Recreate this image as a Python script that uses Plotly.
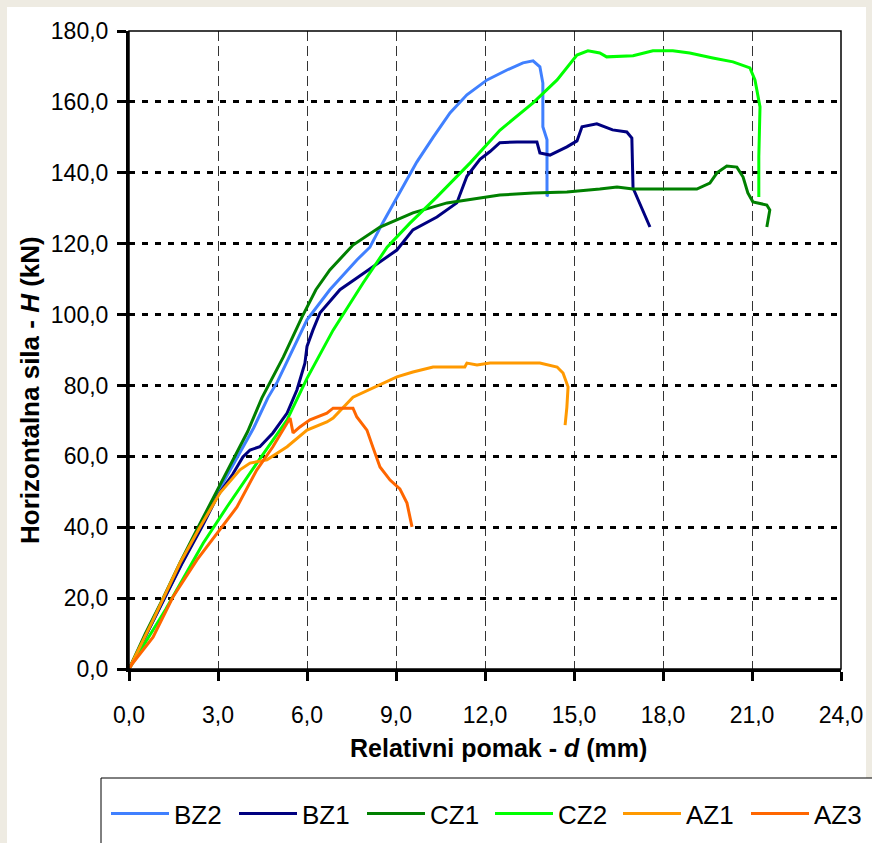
import plotly.graph_objects as go

# ---------------- data ----------------
series_names = ["BZ2", "BZ1", "CZ1", "CZ2", "AZ1", "AZ3"]
series_colors = ["#4080FF", "#000080", "#008000", "#00FF00", "#FF9900", "#FF6600"]

bz2_d = [0, 0.6, 1.2, 1.8, 2.4, 3.0, 3.67, 4.2, 4.68, 5.0, 6.0, 6.77, 7.68, 8.12, 8.56, 9.03,
         9.7, 10.25, 10.82, 11.39, 12.07, 12.74, 13.28, 13.62, 13.85, 13.95, 13.95, 14.09, 14.09, 14.15]
bz2_h = [0, 10, 20, 30, 40, 50, 60, 68, 76.5, 81, 98.5, 107, 115.4, 119, 126, 133,
         143, 150, 156.9, 162, 166.2, 169, 171, 171.6, 169.9, 165.3, 153, 149.3, 133.7, 133.5]

bz1_d = [0, 0.6, 1.2, 1.8, 2.45, 3.0, 3.5, 3.84, 4.08, 4.41, 4.85, 5.33, 5.66, 5.93, 6.0, 6.2,
         6.44, 7.11, 7.68, 8.22, 9.03, 9.57, 10.38, 11.05, 11.39, 11.83, 12.17, 12.5, 13.08,
         13.75, 13.85, 14.19, 14.76, 15.1, 15.27, 15.77, 16.3, 16.78, 16.95, 16.99, 17.56]
bz1_h = [0, 10, 20, 30, 40, 49, 55, 59.8, 61.8, 62.7, 66.6, 72.2, 78.7, 86.3, 91, 95.6,
         100.5, 107, 110.3, 113.4, 118.2, 123.9, 127.5, 131.5, 139, 143.8, 146, 148.5, 148.7,
         148.7, 145.6, 145, 147.3, 149, 153, 153.8, 152.1, 151.5, 149.8, 135.7, 124.7]

cz1_d = [0, 0.55, 1.15, 1.72, 2.33, 2.95, 3.57, 4.0, 4.48, 5.2, 5.83, 6.3, 6.77, 7.2, 7.55,
         8.46, 9.57, 10.72, 11.83, 12.5, 13.62, 14.76, 15.87, 16.45, 16.99, 19.14, 19.58,
         19.82, 20.15, 20.49, 20.7, 20.86, 21.03, 21.5, 21.6, 21.5]
cz1_h = [0, 10, 20, 30, 40, 50, 60, 67, 76.5, 88, 99.3, 107, 112.6, 116.5, 119.6,
         124.7, 128.7, 131.5, 132.9, 133.7, 134.3, 134.6, 135.4, 136, 135.4, 135.4, 137.1,
         140, 141.9, 141.6, 138.8, 134.3, 131.8, 130.9, 129.5, 124.7]

cz2_d = [0, 1.25, 2.5, 3.3, 4.31, 5.33, 6.0, 6.88, 7.89, 8.7, 9.47, 10.38, 11.5, 12.5, 13.62,
         14.43, 15.1, 15.47, 15.87, 16.1, 16.99, 17.66, 18.33, 18.9, 19.68, 20.36, 20.93,
         21.1, 21.27, 21.23, 21.23]
cz2_h = [0, 17, 35.5, 45.7, 58.1, 70.3, 82, 95.6, 108.9, 119, 125.8, 133.2, 142.8, 152, 159.7,
         166.2, 173.2, 174.4, 173.8, 172.7, 173, 174.4, 174.4, 173.8, 172.4, 171.3, 169.6,
         166.2, 158.6, 144.5, 133.2]

az1_d = [0, 0.81, 1.72, 2.39, 3.07, 3.74, 4.08, 4.65, 5.33, 6.0, 6.67, 6.88, 7.55, 8.22, 9.03,
         9.57, 10.25, 11.32, 11.39, 11.73, 12.17, 13.85, 14.43, 14.63, 14.8, 14.76, 14.7]
az1_h = [0, 13.8, 29.9, 40, 49.7, 56.2, 58.1, 59, 62.7, 67.4, 69.7, 70.8, 76.7, 79.2, 82.4,
         83.8, 85.2, 85.2, 86.3, 85.8, 86.3, 86.3, 85.2, 83.5, 79.6, 73.9, 68.8]

az3_d = [0, 0.13, 0.81, 1.48, 2.29, 2.97, 3.64, 4.31, 4.85, 5.33, 5.43, 5.53, 5.76, 6.1, 6.67,
         6.88, 7.55, 7.68, 8.02, 8.22, 8.46, 8.8, 9.13, 9.37, 9.54]
az3_h = [0, 1.7, 9, 20.3, 30.8, 38.4, 45.7, 56.2, 62.7, 69.4, 70.8, 66.6, 68.3, 70.3, 72.2,
         73.6, 73.6, 71.1, 67.4, 62.6, 57, 53.3, 50.8, 46.8, 40.1]

series_d = [bz2_d, bz1_d, cz1_d, cz2_d, az1_d, az3_d]
series_h = [bz2_h, bz1_h, cz1_h, cz2_h, az1_h, az3_h]

x_ticks = [0, 3, 6, 9, 12, 15, 18, 21, 24]
y_ticks = [0, 20, 40, 60, 80, 100, 120, 140, 160, 180]
x_title = "<b>Relativni pomak - <i>d</i> (mm)</b>"
y_title = "<b>Horizontalna sila - <i>H</i> (kN)</b>"

# ---------------- figure ----------------
W, H = 872, 843
L, R, T, B = 129, 31, 31, 174
pw, ph = W - L - R, H - T - B

def px_x(p):
    return (p - L) / pw

def px_y(p):
    return (H - B - p) / ph

FONT = "Liberation Sans, Arial, sans-serif"

fig = go.Figure()
for name, col, d, h in zip(series_names, series_colors, series_d, series_h):
    fig.add_trace(go.Scatter(x=d, y=h, mode="lines", name=name,
                             line=dict(color=col, width=3)))

fig.update_layout(
    width=W, height=H,
    margin=dict(l=L, r=R, t=T, b=B, autoexpand=False),
    paper_bgcolor="#EEEBE2",
    plot_bgcolor="white",
    separators=",.",
    font=dict(family=FONT, size=23, color="black"),
    showlegend=True,
    legend=dict(orientation="h", x=px_x(106), xanchor="left", y=px_y(790), yanchor="top",
                bgcolor="rgba(0,0,0,0)", borderwidth=0,
                font=dict(family=FONT, size=26, color="black"),
                itemwidth=58, entrywidth=55, entrywidthmode="pixels", traceorder="normal"),
)

fig.update_xaxes(range=[0, 24], tickvals=x_ticks, tickformat=".1f",
                 showline=True, linewidth=3, linecolor="black",
                 ticks="outside", ticklen=9, tickwidth=3, tickcolor="black",
                 showgrid=True, gridcolor="#333333", gridwidth=1, griddash="10px,5px",
                 zeroline=False, ticklabelstandoff=14)
fig.update_yaxes(range=[0, 180], tickvals=y_ticks, tickformat=".1f",
                 showline=True, linewidth=3, linecolor="black",
                 ticks="outside", ticklen=9, tickwidth=3, tickcolor="black",
                 showgrid=True, gridcolor="black", gridwidth=3, griddash="6px,7px",
                 zeroline=False, ticklabelstandoff=4)

shapes = [
    # white chart area
    dict(type="rect", xref="paper", yref="paper", x0=px_x(7), x1=px_x(866), y0=px_y(843), y1=px_y(7),
         fillcolor="white", line=dict(width=0), layer="below"),
    # plot border (right/top)
    dict(type="rect", xref="paper", yref="paper", x0=0, x1=1, y0=0, y1=1,
         line=dict(color="black", width=1.5), fillcolor="rgba(0,0,0,0)", layer="above"),
    # legend box
    dict(type="rect", xref="paper", yref="paper", x0=px_x(101), x1=px_x(890), y0=px_y(850), y1=px_y(778),
         line=dict(color="black", width=1), fillcolor="white", layer="below"),
]
fig.update_layout(shapes=shapes)

fig.add_annotation(text=x_title, xref="paper", yref="paper", x=px_x(498), y=px_y(748),
                   xanchor="center", yanchor="middle", showarrow=False,
                   font=dict(family=FONT, size=25, color="black"))
fig.add_annotation(text=y_title, xref="paper", yref="paper", x=px_x(30), y=px_y(390),
                   xanchor="center", yanchor="middle", showarrow=False, textangle=-90,
                   font=dict(family=FONT, size=26, color="black"))

fig.write_html("out.html", config={"displayModeBar": False},
               post_script="document.body.style.margin='0';document.body.style.overflow='hidden';")
